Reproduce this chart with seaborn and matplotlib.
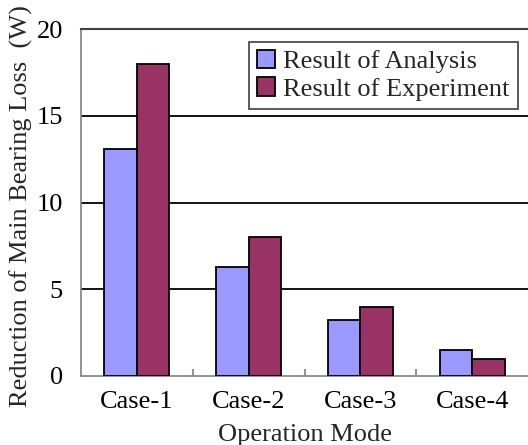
import matplotlib
matplotlib.use("Agg")
import matplotlib.pyplot as plt
import seaborn as sns
import pandas as pd
from matplotlib.ticker import FixedLocator

categories = ["Case-1", "Case-2", "Case-3", "Case-4"]
analysis = [13.1, 6.3, 3.2, 1.5]
experiment = [18.0, 8.0, 4.0, 1.0]
series_names = ["Result of Analysis", "Result of Experiment"]
yticks = [0, 5, 10, 15, 20]

df = pd.DataFrame({
    "case": categories * 2,
    "value": analysis + experiment,
    "series": [series_names[0]] * 4 + [series_names[1]] * 4,
})

sns.set_theme(style="white")
plt.rcParams["font.family"] = ["Liberation Serif", "DejaVu Serif"]

FS = 19
fig = plt.figure(figsize=(5.28, 4.45), dpi=100)
ax = fig.add_axes([81 / 528, 1 - 376 / 445, 447 / 528, (376 - 29) / 445])

sns.barplot(data=df, x="case", y="value", hue="series", order=categories,
            hue_order=series_names, palette=["#9999FF", "#993366"],
            width=0.58, edgecolor="black", linewidth=1.3, saturation=1,
            ax=ax, zorder=3)

ax.set_ylim(0, 20)
ax.set_xlim(-0.5, 3.5)
ax.set_yticks(yticks)
for y in yticks[1:-1]:
    ax.axhline(y, color="black", lw=1.3, zorder=1)

for s in ["left", "bottom"]:
    ax.spines[s].set_color("#808080")
    ax.spines[s].set_linewidth(1.2)
ax.spines["top"].set_color("#404040")
ax.spines["top"].set_linewidth(1.5)
ax.spines["right"].set_visible(False)

ax.tick_params(axis="y", length=0, pad=13, labelsize=FS, colors="black")
ax.tick_params(axis="x", which="major", length=0, pad=11, labelsize=FS, colors="black")
ax.xaxis.set_minor_locator(FixedLocator([0.5, 1.5, 2.5]))
ax.tick_params(axis="x", which="minor", direction="in", length=5, width=1.2, color="#808080", bottom=True)

ax.set_xlabel("Operation Mode", fontsize=FS, labelpad=8)
ax.set_ylabel("Reduction of Main Bearing Loss  (W)", fontsize=FS)
ax.yaxis.set_label_coords(-0.107, 0.49)

leg = ax.legend(loc="upper left", bbox_to_anchor=((249 - 81) / 447, 1 - (42 - 29) / 347),
                fontsize=FS, frameon=True, fancybox=False, framealpha=1,
                edgecolor="#404040", handlelength=0.7, handleheight=0.7,
                handletextpad=0.3, borderpad=0.3, labelspacing=0.15, borderaxespad=0)
leg.get_frame().set_linewidth(1.2)
leg.set_title(None)

fig.savefig("out.png", dpi=100)
